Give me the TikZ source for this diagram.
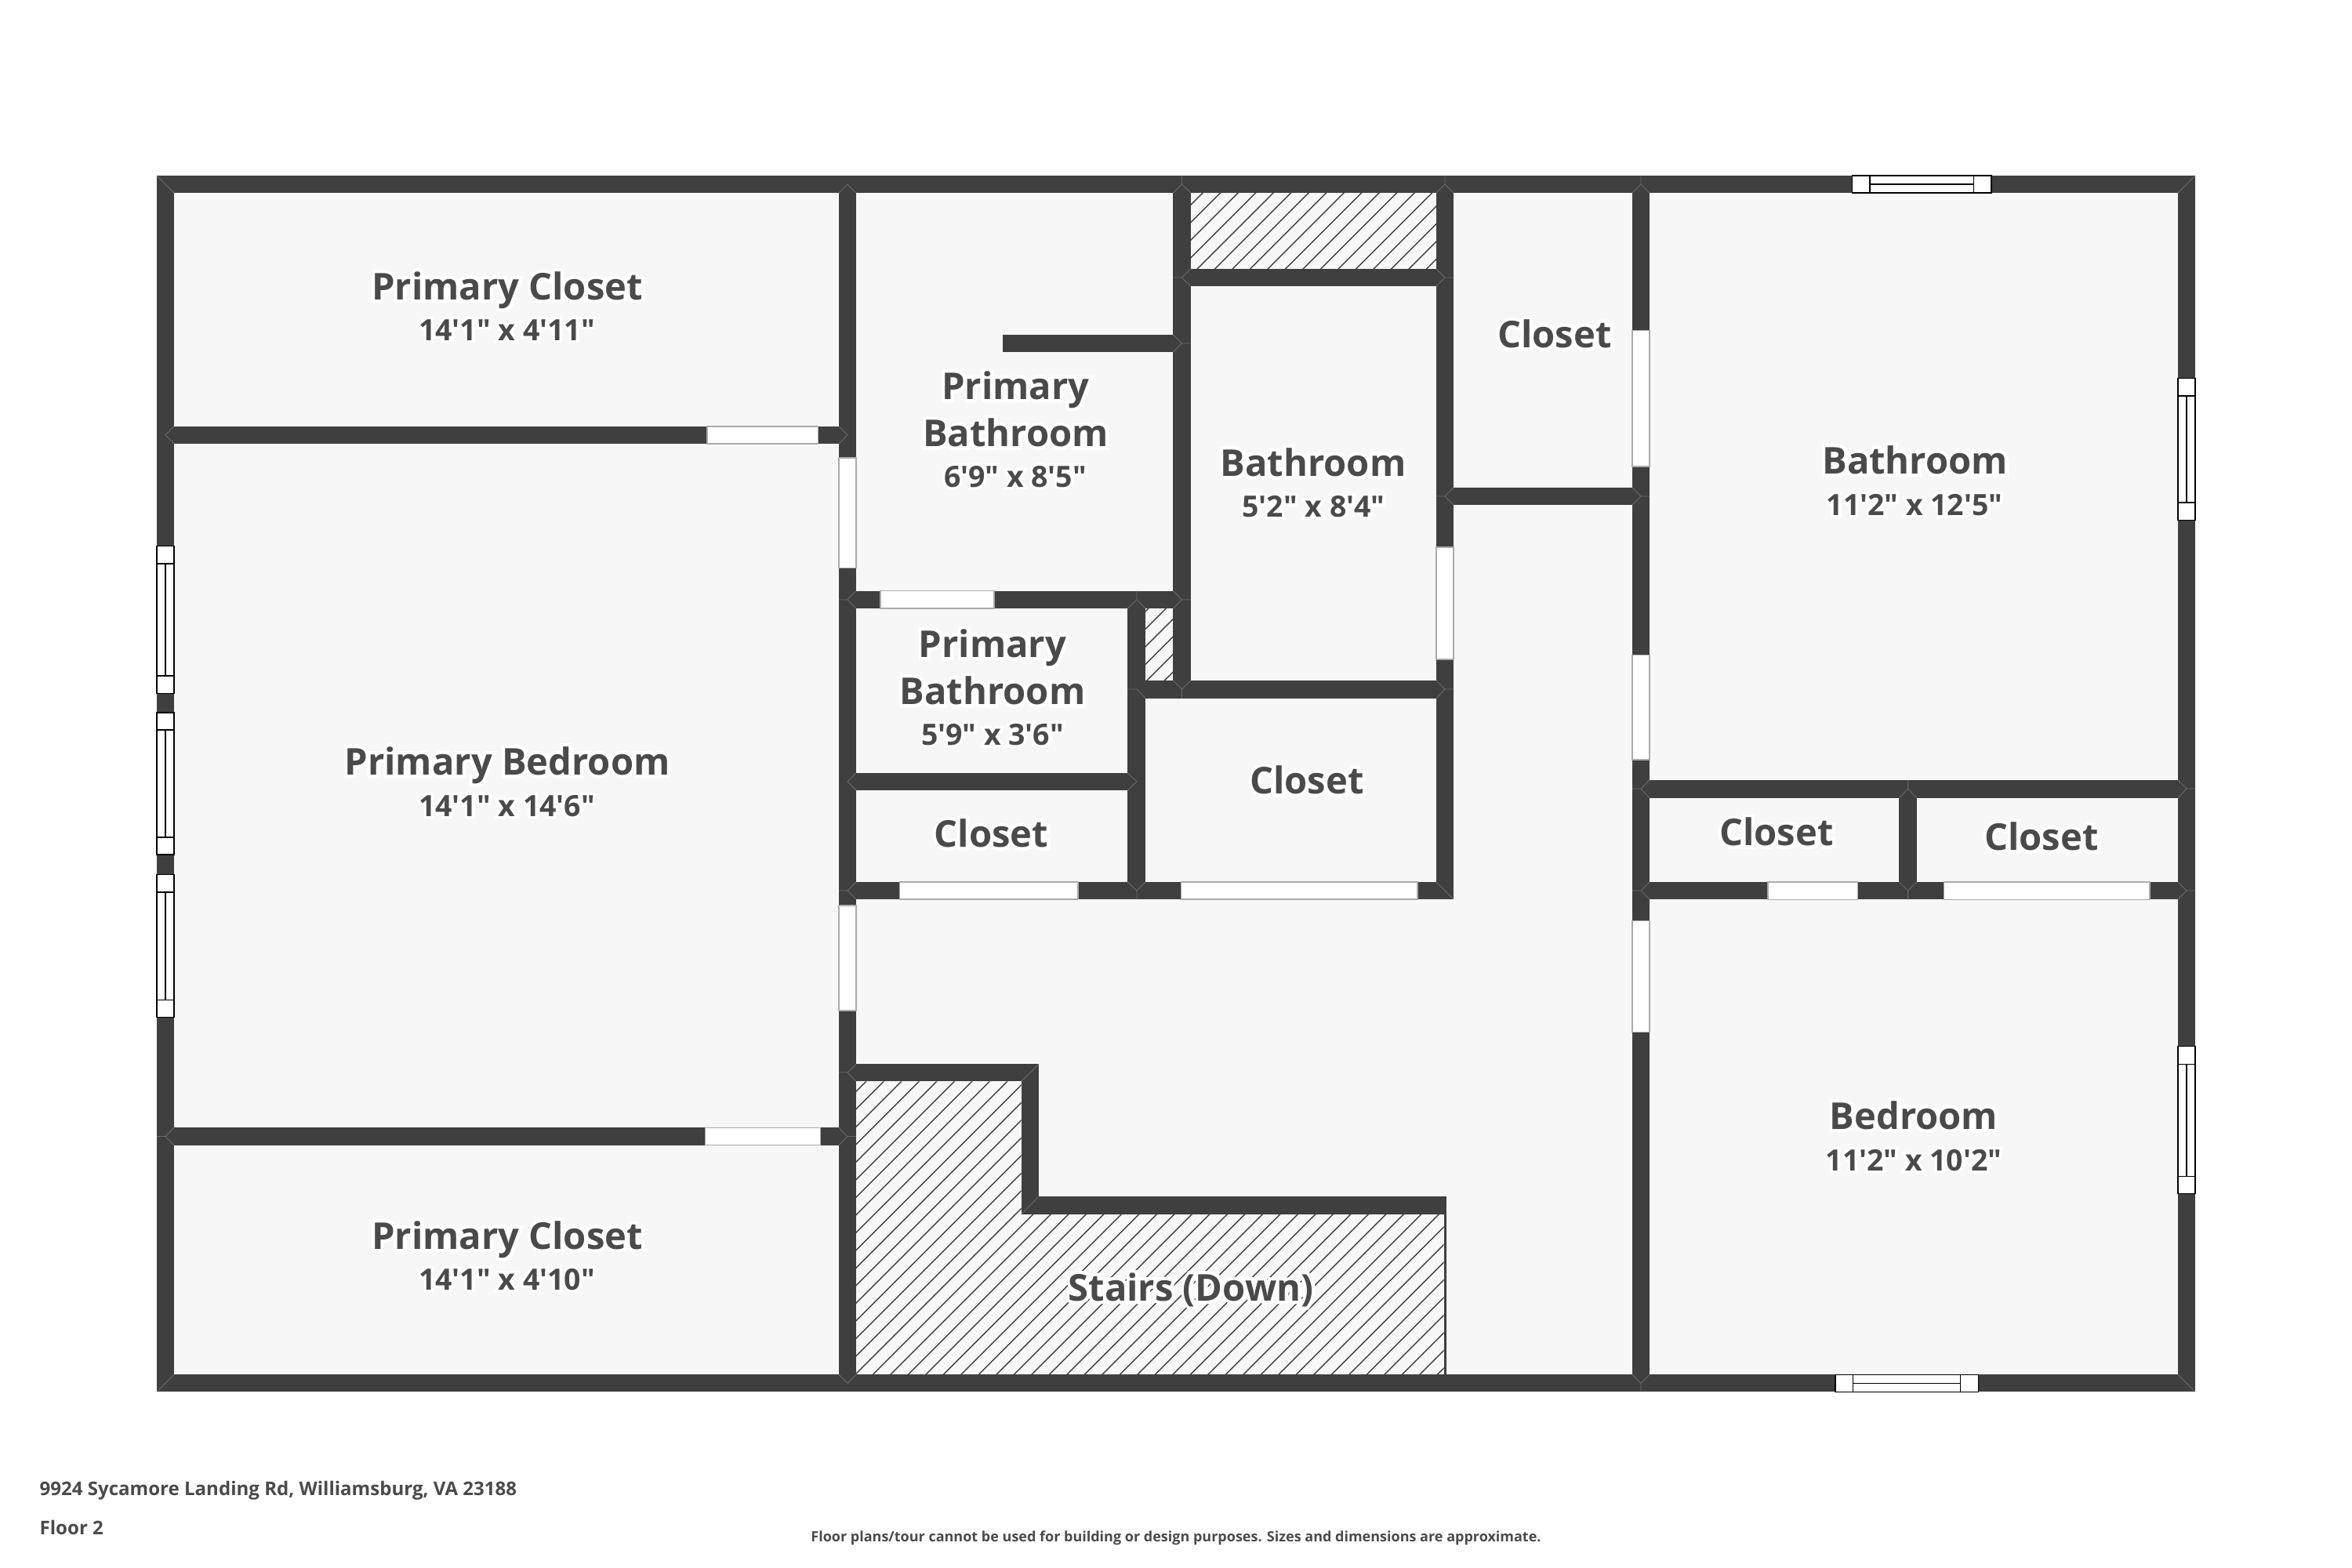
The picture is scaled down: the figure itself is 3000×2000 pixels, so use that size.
\documentclass[tikz,border=0pt]{standalone}
\usepackage{fontspec}
\newfontfamily\planfont{Open Sans}
\newcommand{\halo}[1]{\makebox[0pt][l]{\color{white}\addfontfeatures{FakeBold=18}#1}#1}
\definecolor{wallgray}{HTML}{3F3F3F}
\definecolor{floorgray}{HTML}{F7F7F7}
\definecolor{textgray}{HTML}{4A4A4A}
\definecolor{rimgray}{HTML}{ABABAB}
\definecolor{jointgray}{HTML}{6A6A6A}
\tikzset{
  wall/.style={fill=wallgray},
  joint/.style={draw=jointgray,line width=0.25pt},
  opening/.style={fill=white,draw=rimgray,line width=0.4pt},
  sash/.style={fill=white,draw=black,line width=0.4pt},
  hatchline/.style={draw=wallgray,line width=0.014cm},
  roomname/.style={anchor=base,inner sep=0pt,text=textgray,font=\planfont\bfseries\fontsize{13.4}{15}\selectfont},
  roomsize/.style={anchor=base,inner sep=0pt,text=textgray,font=\planfont\bfseries\fontsize{10.65}{13}\selectfont},
  footer/.style={anchor=base west,inner sep=0pt,text=textgray,font=\planfont\bfseries\fontsize{6.84}{8}\selectfont},
  disclaimer/.style={anchor=base,inner sep=0pt,text=textgray,font=\planfont\bfseries\fontsize{5.12}{6}\selectfont}
}
\begin{document}
\begin{tikzpicture}[x=0.01cm,y=-0.01cm]
    \useasboundingbox (0,0) rectangle (3000,2000);
    \fill[floorgray] (200,224) rectangle (2800,1775.3);
    \begin{scope}
      \clip (1518.7,246) rectangle (1832,343);
      \foreach \c in {1757.5,1780,...,2200} \draw[hatchline] (\c-100,100) -- (\c-500,500);
    \end{scope}
    \begin{scope}
      \clip (1461,775.3) rectangle (1496.4,868);
      \foreach \c in {2218.3,2240.8,...,2380} \draw[hatchline] (\c-700,700) -- (\c-900,900);
    \end{scope}
    \begin{scope}
      \clip (1092,1379.3) -- (1302.6,1379.3) -- (1302.6,1548.8) -- (1841.5,1548.8) -- (1841.5,1753.3) -- (1092,1753.3) -- cycle;
      \foreach \c in {2461.5,2484,...,3610} \draw[hatchline] (\c-1300,1300) -- (\c-1800,1800);
    \end{scope}

    \fill[wall] (200,224) rectangle (2800,246);
    \fill[wall] (200,1753.3) rectangle (2800,1775.3);
    \fill[wall] (200,224) rectangle (222.3,1775.3);
    \fill[wall] (2778,224) rectangle (2800,1775.3);
    \fill[wall] (1070,224) rectangle (1092.3,1775.3);
    \fill[wall] (1496.4,224) rectangle (1518.7,890.6);
    \fill[wall] (1832,224) rectangle (1854,1147);
    \fill[wall] (2082,224) rectangle (2104,1775.3);
    \fill[wall] (1438.4,753.6) rectangle (1461,1147);
    \fill[wall] (1302.6,1357.3) rectangle (1325,1548.8);
    \fill[wall] (2422.4,995) rectangle (2444.8,1147);
    \fill[wall] (1841.7,1526) rectangle (1845,1753.3);
    \fill[wall] (200,543.8) rectangle (1092,566);
    \fill[wall] (200,1438.3) rectangle (1092,1460.7);
    \fill[wall] (1279,426.8) rectangle (1496.4,449);
    \fill[wall] (1496.4,343) rectangle (1854,365);
    \fill[wall] (1092,753.6) rectangle (1518.7,776);
    \fill[wall] (1438.4,868) rectangle (1854,890.6);
    \fill[wall] (1092,985.8) rectangle (1461,1008);
    \fill[wall] (1092,1125) rectangle (1854,1147);
    \fill[wall] (1832,622) rectangle (2104,644);
    \fill[wall] (1070,1357.3) rectangle (1325,1379.3);
    \fill[wall] (1302.6,1526) rectangle (1845,1548.8);
    \fill[wall] (2082,995) rectangle (2800,1018);
    \fill[wall] (2082,1124.8) rectangle (2800,1147.3);

    \draw[joint] (200,224) -- (222,246) (2800,224) -- (2778,246) (200,1775.3) -- (222,1753.3) (2800,1775.3) -- (2778,1753.3);
    \draw[joint] (1070,246) -- (1081,235) -- (1092,246) (1496.4,246) -- (1507.5,235) -- (1518.7,246) (1507.5,224) -- (1507.5,235);
    \draw[joint] (1832,246) -- (1843,235) -- (1854,246) (1843,224) -- (1843,235) (2082,246) -- (2093,235) -- (2104,246) (2093,224) -- (2093,235);
    \draw[joint] (222,543.8) -- (211,555) -- (222,566) (222,1438.3) -- (211,1449.5) -- (222,1460.7) (200,1449.5) -- (211,1449.5);
    \draw[joint] (1070,543.8) -- (1081,555) -- (1070,566) (1070,1438.3) -- (1081,1449.5) -- (1070,1460.7) (1092,1449.5) -- (1081,1449.5);
    \draw[joint] (1092,753.6) -- (1081,765) -- (1092,776) (1070,765) -- (1081,765) (1092,985.8) -- (1081,997) -- (1092,1008);
    \draw[joint] (1092,1125) -- (1081,1136) -- (1092,1147) (1070,1136) -- (1081,1136) (1092,1357.3) -- (1081,1368) -- (1092,1379.3) (1070,1368) -- (1081,1368);
    \draw[joint] (1518.7,343) -- (1507.5,354) -- (1518.7,365) (1496.4,354) -- (1507.5,354) (1496.4,426.8) -- (1507.5,438) -- (1496.4,449) (1518.7,438) -- (1507.5,438);
    \draw[joint] (1496.4,753.6) -- (1507.5,765) -- (1496.4,776) (1518.7,765) -- (1507.5,765) (1496.4,868) -- (1507.5,879) -- (1518.7,868) (1507.5,879) -- (1507.5,890.6);
    \draw[joint] (1832,343) -- (1843,354) -- (1832,365) (1854,354) -- (1843,354) (1854,622) -- (1843,633) -- (1854,644) (1832,633) -- (1843,633);
    \draw[joint] (1438.4,776) -- (1450,765) -- (1461,776) (1450,753.6) -- (1450,765) (1461,890.6) -- (1450,879) -- (1438.4,879) (1832,868) -- (1843,879) -- (1832,890.6) (1854,879) -- (1843,879);
    \draw[joint] (1438.4,985.8) -- (1450,997) -- (1438.4,1008) (1438.4,1125) -- (1450,1136) -- (1461,1125) (1450,1136) -- (1450,1147) (1832,1125) -- (1854,1147);
    \draw[joint] (1325,1357.3) -- (1302.6,1379.3) (1325,1526) -- (1302.6,1548.8) (1070,1753.3) -- (1081,1764.3) -- (1092,1753.3) (2082,1753.3) -- (2093,1764.3) -- (2104,1753.3) (2093,1764.3) -- (2093,1775.3);
    \draw[joint] (2082,622) -- (2093,633) -- (2082,644) (2104,633) -- (2093,633) (2104,995) -- (2093,1006) -- (2104,1018) (2082,1006) -- (2093,1006) (2104,1125) -- (2093,1136) -- (2104,1147) (2082,1136) -- (2093,1136);
    \draw[joint] (2778,995) -- (2789,1006) -- (2778,1018) (2800,1006) -- (2789,1006) (2778,1125) -- (2789,1136) -- (2778,1147) (2800,1136) -- (2789,1136);
    \draw[joint] (2422.4,1018) -- (2433.6,1006) -- (2444.8,1018) (2433.6,995) -- (2433.6,1006) (2422.4,1124.8) -- (2433.6,1136) -- (2444.8,1124.8) (2433.6,1136) -- (2433.6,1147.3);

    \draw[opening] (902,543.8) rectangle (1043.5,566);
    \draw[opening] (899.4,1438.3) rectangle (1046.7,1460.7);
    \draw[opening] (1070,584) rectangle (1092,724.5);
    \draw[opening] (1070,1155) rectangle (1092,1289);
    \draw[opening] (1123,753.6) rectangle (1268,776);
    \draw[opening] (1147.6,1125) rectangle (1375,1147);
    \draw[opening] (1506.6,1125) rectangle (1808,1147);
    \draw[opening] (1832,697.8) rectangle (1854,841);
    \draw[opening] (2082,421.4) rectangle (2104,595);
    \draw[opening] (2082,835.7) rectangle (2104,969);
    \draw[opening] (2082,1174.5) rectangle (2104,1316.4);
    \draw[opening] (2255,1124.8) rectangle (2369.7,1147.3);
    \draw[opening] (2479.4,1124.8) rectangle (2741.8,1147.3);

    \draw[sash] (200,696.4) rectangle (222,884.4) (200,718.8) -- (222,718.8) (200,862) -- (222,862) (211,718.8) -- (211,862);
    \draw[sash] (200,909) rectangle (222,1089.8) (200,931) -- (222,931) (200,1068) -- (222,1068) (211,931) -- (211,1068);
    \draw[sash] (200,1115.7) rectangle (222,1297.4) (200,1138) -- (222,1138) (200,1275.5) -- (222,1275.5) (211,1138) -- (211,1275.5);
    \draw[sash] (2778,482.6) rectangle (2800,663.4) (2778,505) -- (2800,505) (2778,641) -- (2800,641) (2789,505) -- (2789,641);
    \draw[sash] (2778,1334.5) rectangle (2800,1522.4) (2778,1357.6) -- (2800,1357.6) (2778,1500.6) -- (2800,1500.6) (2789,1357.6) -- (2789,1500.6);
    \draw[sash] (2362.4,224) rectangle (2540,246) (2384.8,224) -- (2384.8,246) (2517.6,224) -- (2517.6,246) (2384.8,235) -- (2517.6,235);
    \draw[sash] (2341,1753.3) rectangle (2523.6,1775.3) (2363.6,1753.3) -- (2363.6,1775.3) (2500.6,1753.3) -- (2500.6,1775.3) (2363.6,1764.3) -- (2500.6,1764.3);

    \node[roomname] (closetnw) at (647,382) {\halo{Primary Closet}};
    \node[roomsize] (closetnwsize) at (646.5,434) {\halo{14'1" x 4'11"}};
    \node[roomname] (primbed) at (647,988) {\halo{Primary Bedroom}};
    \node[roomsize] (primbedsize) at (646.5,1041) {\halo{14'1" x 14'6"}};
    \node[roomname] (closetsw) at (647,1593) {\halo{Primary Closet}};
    \node[roomsize] (closetswsize) at (646.5,1645) {\halo{14'1" x 4'10"}};
    \node[roomname] (primbatha) at (1295.5,509) {\halo{Primary}};
    \node[roomname] (primbathb) at (1295.5,569.6) {\halo{Bathroom}};
    \node[roomsize] (primbathsize) at (1295,621) {\halo{6'9" x 8'5"}};
    \node[roomname] (smallbatha) at (1266,838) {\halo{Primary}};
    \node[roomname] (smallbathb) at (1266,898.5) {\halo{Bathroom}};
    \node[roomsize] (smallbathsize) at (1266,950) {\halo{5'9" x 3'6"}};
    \node[roomname] (bathmid) at (1675,607) {\halo{Bathroom}};
    \node[roomsize] (bathmidsize) at (1675.5,659.5) {\halo{5'2" x 8'4"}};
    \node[roomname] (closetup) at (1983,443) {\halo{Closet}};
    \node[roomname] (closetmid) at (1667,1012.6) {\halo{Closet}};
    \node[roomname] (closetlow) at (1264.6,1080.4) {\halo{Closet}};
    \node[roomname] (bathbig) at (2442.7,604) {\halo{Bathroom}};
    \node[roomsize] (bathbigsize) at (2442,657) {\halo{11'2" x 12'5"}};
    \node[roomname] (closetleft) at (2266,1078.8) {\halo{Closet}};
    \node[roomname] (closetright) at (2604,1084.8) {\halo{Closet}};
    \node[roomname] (bedroom) at (2441,1440) {\halo{Bedroom}};
    \node[roomsize] (bedroomsize) at (2441,1493) {\halo{11'2" x 10'2"}};
    \node[roomname] (stairs) at (1519,1659) {\halo{Stairs (Down)}};

    \node[footer] (address) at (50,1907) {9924 Sycamore Landing Rd, Williamsburg, VA 23188};
    \node[footer] (floorno) at (50,1957) {Floor 2};
    \node[disclaimer] (notice) at (1500,1966) {Floor plans/tour cannot be used for building or design purposes. Sizes and dimensions are approximate.};
\end{tikzpicture}
\end{document}
